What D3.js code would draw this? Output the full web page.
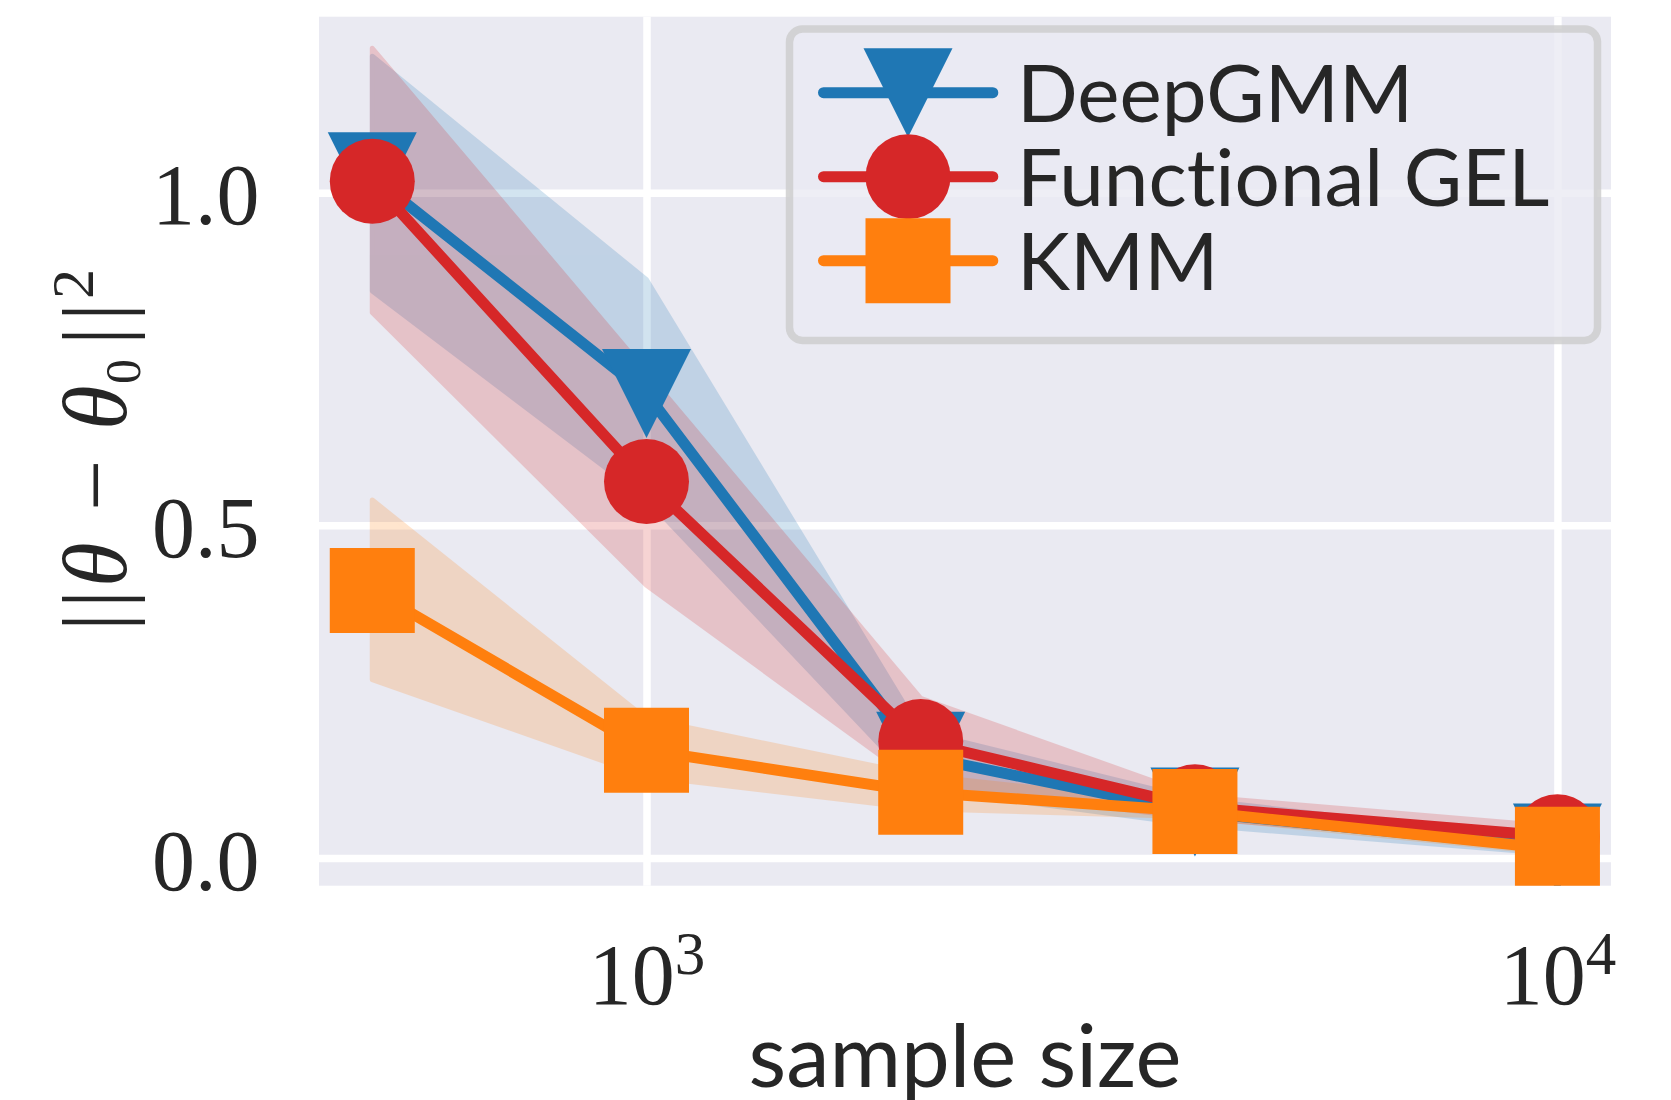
<!DOCTYPE html>
<html>
<head>
<meta charset="utf-8">
<script src="https://cdn.jsdelivr.net/npm/d3@7"></script>
<style>
  html, body { margin: 0; padding: 0; background: #ffffff; }
  svg { display: block; }
  text { font-variant-ligatures: none; font-feature-settings: "liga" 0, "clig" 0; }
</style>
</head>
<body>
<svg id="chart" width="1671" height="1100"></svg>
<script>
// Sample sizes on the (log) x axis
const sampleSizes = [500, 1000, 2000, 4000, 10000];

// Method names, in drawing order
const seriesNames = ["DeepGMM", "Functional GEL", "KMM"];

// Mean squared parameter error and its shaded band, per method
const deepGmmMean  = [1.024, 0.698, 0.153, 0.069, 0.015];
const deepGmmLower = [0.852, 0.540, 0.105, 0.050, 0.006];
const deepGmmUpper = [1.205, 0.869, 0.190, 0.088, 0.025];

const fgelMean  = [1.017, 0.566, 0.175, 0.077, 0.032];
const fgelLower = [0.820, 0.410, 0.110, 0.060, 0.018];
const fgelUpper = [1.217, 0.730, 0.240, 0.093, 0.047];

const kmmMean  = [0.402, 0.162, 0.099, 0.070, 0.013];
const kmmLower = [0.268, 0.123, 0.074, 0.062, 0.007];
const kmmUpper = [0.538, 0.209, 0.124, 0.080, 0.019];

// Axis ticks and limits
const xTickValues = [1000, 10000];
const yTickValues = [0.0, 0.5, 1.0];
const xLimits = [437, 11450];
const yLimits = [-0.0416, 1.2644];

// ---------------------------------------------------------------------------
const colors = { "DeepGMM": "#1f77b4", "Functional GEL": "#d62728", "KMM": "#ff7f0e" };
const markerKinds = { "DeepGMM": "triangleDown", "Functional GEL": "circle", "KMM": "square" };

const series = [
  { name: seriesNames[0], mean: deepGmmMean, lower: deepGmmLower, upper: deepGmmUpper },
  { name: seriesNames[1], mean: fgelMean, lower: fgelLower, upper: fgelUpper },
  { name: seriesNames[2], mean: kmmMean, lower: kmmLower, upper: kmmUpper }
];

const plot = { left: 319, right: 1611, top: 16.7, bottom: 885.7 };
const plotW = plot.right - plot.left;
const plotH = plot.bottom - plot.top;

const textColor = "#262626";
const sansFont = "Lato, 'Open Sans', 'DejaVu Sans', sans-serif";
const serifFont = "'Liberation Serif', 'DejaVu Serif', serif";

const svg = d3.select("#chart");

const x = d3.scaleLog().domain(xLimits).range([plot.left, plot.right]);
const y = d3.scaleLinear().domain(yLimits).range([plot.bottom, plot.top]);

// clip region for the data area
svg.append("defs").append("clipPath").attr("id", "plot-clip")
  .append("rect")
  .attr("x", plot.left).attr("y", plot.top)
  .attr("width", plotW).attr("height", plotH);

// axes background
svg.append("rect")
  .attr("x", plot.left).attr("y", plot.top)
  .attr("width", plotW).attr("height", plotH)
  .attr("fill", "#eaeaf2");

// white grid lines
const gridY = svg.append("g")
  .attr("transform", `translate(${plot.left},0)`)
  .call(d3.axisLeft(y).tickValues(yTickValues).tickSize(-plotW).tickFormat(""));
const gridX = svg.append("g")
  .attr("transform", `translate(0,${plot.bottom})`)
  .call(d3.axisBottom(x).tickValues(xTickValues).tickSize(-plotH).tickFormat(""));
[gridX, gridY].forEach(g => {
  g.select(".domain").remove();
  g.selectAll(".tick line").attr("stroke", "#ffffff").attr("stroke-width", 7.5);
});

// y tick labels
const yAxis = svg.append("g")
  .attr("transform", `translate(${plot.left},0)`)
  .call(d3.axisLeft(y).tickValues(yTickValues).tickSize(0).tickPadding(59.5)
        .tickFormat(d3.format(".1f")));
yAxis.select(".domain").remove();
yAxis.selectAll("text")
  .attr("dy", 31)
  .attr("font-family", serifFont)
  .attr("font-size", 86)
  .attr("fill", textColor);

// x tick labels as powers of ten
const xAxis = svg.append("g")
  .attr("transform", `translate(0,${plot.bottom})`)
  .call(d3.axisBottom(x).tickValues(xTickValues).tickSize(0).tickFormat(""));
xAxis.select(".domain").remove();
xAxis.selectAll(".tick text")
  .attr("y", 118).attr("dy", 0)
  .attr("font-family", serifFont)
  .attr("font-size", 86)
  .attr("fill", textColor)
  .each(function(d) {
    const t = d3.select(this);
    t.text("10");
    t.append("tspan")
      .attr("font-size", 61)
      .attr("dy", -30)
      .text(String(Math.round(Math.log10(d))));
  });

// data layer
const dataLayer = svg.append("g").attr("clip-path", "url(#plot-clip)");

const area = d3.area()
  .x(d => x(d.n))
  .y0(d => y(d.lo))
  .y1(d => y(d.hi));

series.forEach(s => {
  const pts = sampleSizes.map((n, i) => ({ n, lo: s.lower[i], hi: s.upper[i] }));
  dataLayer.append("path")
    .datum(pts)
    .attr("d", area)
    .attr("fill", colors[s.name])
    .attr("stroke", colors[s.name])
    .attr("stroke-width", 5)
    .attr("stroke-linejoin", "round")
    .attr("opacity", 0.2);
});

// marker shapes
const triangleDown = {
  draw(context, size) {
    const h = Math.sqrt(size) / 2;
    context.moveTo(-h, -h);
    context.lineTo(h, -h);
    context.lineTo(0, h);
    context.closePath();
  }
};
function markerPath(kind) {
  if (kind === "circle") return d3.symbol(d3.symbolCircle, Math.PI * 42.5 * 42.5)();
  if (kind === "square") return d3.symbol(d3.symbolSquare, 85 * 85)();
  return d3.symbol(triangleDown, 89 * 89)();
}

const line = d3.line()
  .x(d => x(d.n))
  .y(d => y(d.v));

series.forEach(s => {
  const pts = sampleSizes.map((n, i) => ({ n, v: s.mean[i] }));
  const g = dataLayer.append("g");
  g.append("path")
    .datum(pts)
    .attr("d", line)
    .attr("fill", "none")
    .attr("stroke", colors[s.name])
    .attr("stroke-width", 11)
    .attr("stroke-linejoin", "round")
    .attr("stroke-linecap", "round");
  g.selectAll("path.marker")
    .data(pts)
    .join("path")
    .attr("class", "marker")
    .attr("transform", d => `translate(${x(d.n)},${y(d.v)})`)
    .attr("d", markerPath(markerKinds[s.name]))
    .attr("fill", colors[s.name]);
});

// legend
const legend = svg.append("g");
legend.append("rect")
  .attr("x", 789.5).attr("y", 29)
  .attr("width", 808).attr("height", 311.5)
  .attr("rx", 13).attr("ry", 13)
  .attr("fill", "#eaeaf2").attr("fill-opacity", 0.8)
  .attr("stroke", "#cccccc").attr("stroke-opacity", 0.8)
  .attr("stroke-width", 7.5);

const legendRowY = d3.scalePoint().domain(seriesNames).range([92.7, 260.7]);
seriesNames.forEach(name => {
  const ry = legendRowY(name);
  legend.append("line")
    .attr("x1", 823.5).attr("x2", 992.8)
    .attr("y1", ry).attr("y2", ry)
    .attr("stroke", colors[name])
    .attr("stroke-width", 11)
    .attr("stroke-linecap", "round");
  legend.append("path")
    .attr("transform", `translate(908,${ry})`)
    .attr("d", markerPath(markerKinds[name]))
    .attr("fill", colors[name]);
  legend.append("text")
    .attr("x", 1017).attr("y", ry + 29)
    .attr("font-family", sansFont)
    .attr("font-size", 80)
    .attr("fill", textColor)
    .text(name);
});

// x axis label
svg.append("text")
  .attr("x", (plot.left + plot.right) / 2)
  .attr("y", 1086.7)
  .attr("text-anchor", "middle")
  .attr("font-family", sansFont)
  .attr("font-size", 87)
  .attr("fill", textColor)
  .text("sample size");

// y axis label: ||θ − θ₀||²
const yLabel = svg.append("text")
  .attr("transform", "translate(126,625) rotate(-90)")
  .attr("font-family", serifFont)
  .attr("font-size", 91)
  .attr("fill", textColor);
yLabel.append("tspan").attr("x", -6).attr("y", 0).text("|");
yLabel.append("tspan").attr("x", 17).attr("y", 0).text("|");
yLabel.append("tspan").attr("x", 38).attr("y", 0).attr("font-style", "italic").text("θ");
yLabel.append("tspan").attr("x", 114).attr("y", 0).text("−");
yLabel.append("tspan").attr("x", 195).attr("y", 0).attr("font-style", "italic").text("θ");
yLabel.append("tspan").attr("x", 241).attr("y", 14).attr("font-size", 50).text("0");
yLabel.append("tspan").attr("x", 280).attr("y", 0).text("|");
yLabel.append("tspan").attr("x", 304).attr("y", 0).text("|");
yLabel.append("tspan").attr("x", 326).attr("y", -33).attr("font-size", 60).text("2");
</script>
</body>
</html>
